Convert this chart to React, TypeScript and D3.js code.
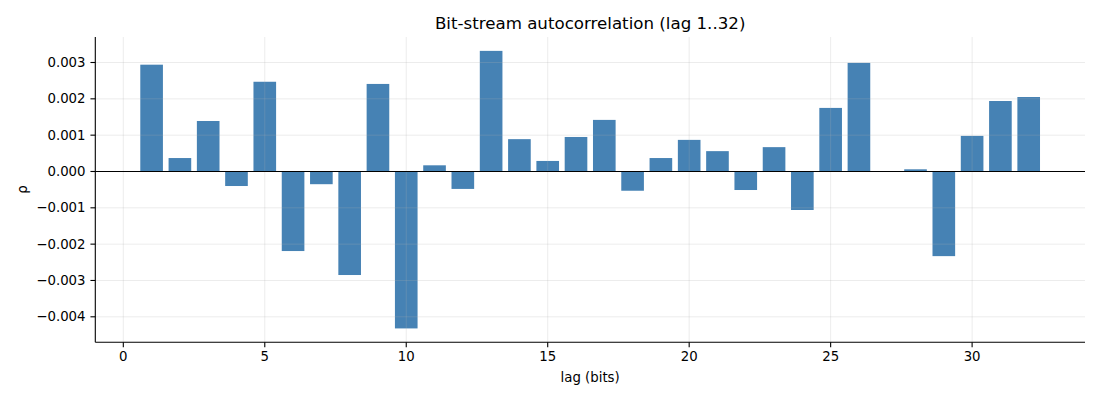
import React from "react";
import * as d3 from "d3";

const lags: number[] = Array.from({ length: 32 }, (_, i) => i + 1);
const rho: number[] = [
  0.00294, 0.00037, 0.00139, -0.0004, 0.00247, -0.00219, -0.00035, -0.00285,
  0.00241, -0.00432, 0.00017, -0.00048, 0.00332, 0.00089, 0.00029, 0.00095,
  0.00142, -0.00053, 0.00037, 0.00087, 0.00056, -0.00051, 0.00067, -0.00106,
  0.00175, 0.00299, 0.0, 0.00006, -0.00233, 0.00098, 0.00194, 0.00205,
];
const xTicks: number[] = [0, 5, 10, 15, 20, 25, 30];
const yTicks: number[] = [-0.004, -0.003, -0.002, -0.001, 0, 0.001, 0.002, 0.003];

const W = 1100;
const H = 400;
const M = { left: 95.3, right: 1085, top: 37, bottom: 342.3 };
const FONT = "DejaVu Sans, sans-serif";

export default function App() {
  const barW = 0.8;
  const xMin = d3.min(lags)! - barW / 2;
  const xMax = d3.max(lags)! + barW / 2;
  const xPad = (xMax - xMin) * 0.05;
  const x = d3.scaleLinear().domain([xMin - xPad, xMax + xPad]).range([M.left, M.right]);
  const yLo = Math.min(0, d3.min(rho)!);
  const yHi = Math.max(0, d3.max(rho)!);
  const yPad = (yHi - yLo) * 0.05;
  const y = d3.scaleLinear().domain([yLo - yPad, yHi + yPad]).range([M.bottom, M.top]);
  const fmtY = (v: number) => {
    const s = d3.format(".3f")(Math.abs(v));
    return v < 0 ? "\u2212" + s : s;
  };
  const tick = 4.86;
  const gridColor = "#b0b0b0";
  return (
    <svg width={W} height={H} style={{ position: "absolute", left: 0, top: 0 }} fontFamily={FONT}>
      <rect width={W} height={H} fill="#fff" />
      {/* bars */}
      {lags.map((l, i) => (
        <rect
          key={l}
          x={x(l - barW / 2)}
          width={x(l + barW / 2) - x(l - barW / 2)}
          y={y(Math.max(0, rho[i]))}
          height={Math.abs(y(rho[i]) - y(0))}
          fill="#4682b4"
        />
      ))}
      {/* grid */}
      <g stroke={gridColor} strokeOpacity={0.3} strokeWidth={0.8}>
        {xTicks.map((t) => (
          <line key={"gx" + t} x1={x(t)} x2={x(t)} y1={M.top} y2={M.bottom} />
        ))}
        {yTicks.map((t) => (
          <line key={"gy" + t} x1={M.left} x2={M.right} y1={y(t)} y2={y(t)} />
        ))}
      </g>
      {/* zero line */}
      <line x1={M.left} x2={M.right} y1={y(0)} y2={y(0)} stroke="#000" strokeWidth={1.1} />
      {/* spines */}
      <line x1={M.left} x2={M.left} y1={M.top} y2={M.bottom} stroke="#000" strokeWidth={1.1} />
      <line x1={M.left} x2={M.right} y1={M.bottom} y2={M.bottom} stroke="#000" strokeWidth={1.1} />
      {/* x ticks */}
      {xTicks.map((t) => (
        <g key={"xt" + t}>
          <line x1={x(t)} x2={x(t)} y1={M.bottom} y2={M.bottom + tick} stroke="#000" strokeWidth={1.1} />
          <text x={x(t)} y={M.bottom + 19} fontSize={13.3} textAnchor="middle" fill="#000">
            {t}
          </text>
        </g>
      ))}
      {/* y ticks */}
      {yTicks.map((t) => (
        <g key={"yt" + t}>
          <line x1={M.left - tick} x2={M.left} y1={y(t)} y2={y(t)} stroke="#000" strokeWidth={1.1} />
          <text x={M.left - tick - 4.9} y={y(t)} dy="0.35em" fontSize={13.3} textAnchor="end" fill="#000">
            {fmtY(t)}
          </text>
        </g>
      ))}
      {/* labels */}
      <text x={(M.left + M.right) / 2} y={382} fontSize={13.3} textAnchor="middle" fill="#000">
        lag (bits)
      </text>
      <text
        transform={`translate(27,${(M.top + M.bottom) / 2}) rotate(-90)`}
        fontSize={13.3}
        textAnchor="middle"
        fill="#000"
      >
        ρ
      </text>
      <text x={(M.left + M.right) / 2} y={29} fontSize={16.67} textAnchor="middle" fill="#000">
        Bit-stream autocorrelation (lag 1..32)
      </text>
    </svg>
  );
}
